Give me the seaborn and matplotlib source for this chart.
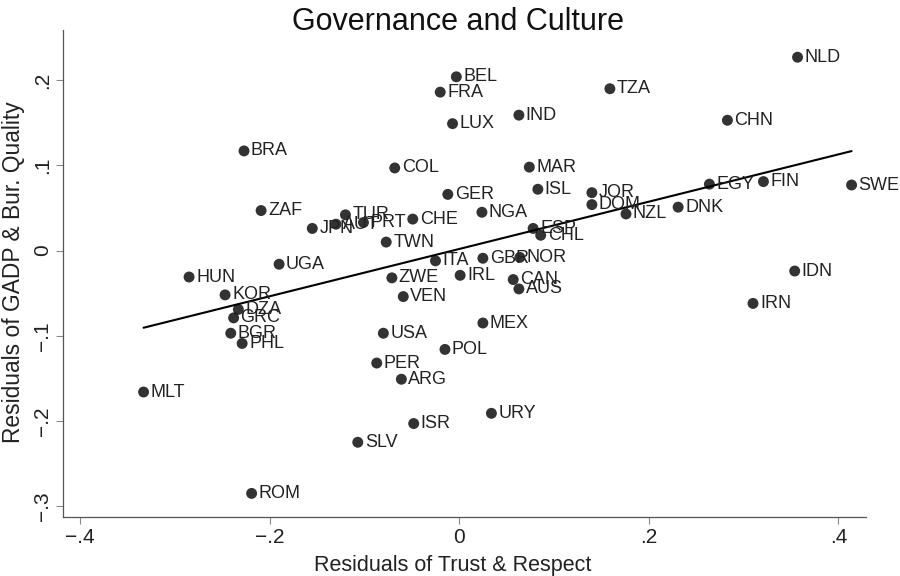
import matplotlib
matplotlib.use("Agg")
import matplotlib.pyplot as plt
import seaborn as sns
import numpy as np
import pandas as pd

countries = ["NLD", "BEL", "FRA", "TZA", "IND", "LUX", "CHN", "BRA", "COL", "MAR",
             "ISL", "JOR", "DOM", "EGY", "FIN", "SWE", "DNK", "NZL", "GER", "NGA",
             "ZAF", "TUR", "JPN", "AUT", "PRT", "CHE", "TWN", "UGA", "ITA", "ZWE",
             "IRL", "HUN", "KOR", "DZA", "GRC", "BGR", "PHL", "VEN", "GBR", "NOR",
             "CAN", "AUS", "ESP", "CHL", "IDN", "IRN", "USA", "MEX", "POL", "PER",
             "ARG", "MLT", "ROM", "URY", "ISR", "SLV"]
trust = [0.357, -0.003, -0.020, 0.159, 0.063, -0.007, 0.283, -0.227, -0.068, 0.074,
         0.083, 0.140, 0.140, 0.264, 0.321, 0.414, 0.231, 0.176, -0.012, 0.024,
         -0.209, -0.120, -0.155, -0.130, -0.101, -0.049, -0.077, -0.190, -0.025, -0.071,
         0.001, -0.285, -0.247, -0.233, -0.238, -0.241, -0.229, -0.059, 0.025, 0.064,
         0.057, 0.063, 0.078, 0.086, 0.354, 0.310, -0.080, 0.025, -0.015, -0.087,
         -0.061, -0.333, -0.219, 0.034, -0.048, -0.107]
gadp = [0.227, 0.204, 0.186, 0.190, 0.159, 0.149, 0.153, 0.117, 0.097, 0.098,
        0.072, 0.068, 0.054, 0.078, 0.081, 0.077, 0.051, 0.043, 0.066, 0.045,
        0.047, 0.042, 0.026, 0.031, 0.033, 0.037, 0.010, -0.016, -0.012, -0.032,
        -0.029, -0.031, -0.052, -0.069, -0.079, -0.097, -0.109, -0.054, -0.009, -0.008,
        -0.034, -0.045, 0.026, 0.018, -0.024, -0.062, -0.097, -0.085, -0.116, -0.132,
        -0.151, -0.166, -0.285, -0.191, -0.203, -0.225]
xtick_vals = [-0.4, -0.2, 0, 0.2, 0.4]
xtick_labels = ["\u2212.4", "\u2212.2", "0", ".2", ".4"]
ytick_vals = [-0.3, -0.2, -0.1, 0, 0.1, 0.2]
ytick_labels = ["\u2212.3", "\u2212.2", "\u2212.1", "0", ".1", ".2"]

df = pd.DataFrame({"country": countries, "trust": trust, "gadp": gadp})

sns.set_style("white")
plt.rcParams["font.family"] = ["Liberation Sans", "DejaVu Sans"]

fig = plt.figure(figsize=(9, 5.76), dpi=100)
ax = fig.add_axes([0.07, 0.102, 0.892, 0.846])

sns.regplot(data=df, x="trust", y="gadp", ci=None, truncate=True, ax=ax,
            scatter_kws=dict(s=62, color="black", edgecolor="none", zorder=3),
            line_kws=dict(color="black", lw=1.5, zorder=2))

for c, x, y in zip(countries, trust, gadp):
    ax.annotate(c, (x, y), xytext=(5, 0), textcoords="offset points",
                va="center", ha="left", fontsize=13, color="#222222", zorder=4,
                annotation_clip=False)

ax.set_xlim(-0.418, 0.429)
ax.set_ylim(-0.313, 0.259)
ax.set_xticks(xtick_vals)
ax.set_xticklabels(xtick_labels)
ax.set_yticks(ytick_vals)
ax.set_yticklabels(ytick_labels, rotation=90, va="center")
ax.tick_params(axis="both", which="major", length=5, width=0.8, color="#888888",
               labelsize=15, labelcolor="#222222", bottom=True, left=True, pad=3)

for s in ["top", "right"]:
    ax.spines[s].set_visible(False)
for s in ["left", "bottom"]:
    ax.spines[s].set_color("#555555")
    ax.spines[s].set_linewidth(0.9)

ax.set_xlabel("Residuals of Trust & Respect", fontsize=15.5, color="#222222")
ax.set_ylabel("Residuals of GADP & Bur. Quality", fontsize=16.4, color="#222222")
ax.xaxis.set_label_coords(0.486, -0.078)
ax.yaxis.set_label_coords(-0.047, 0.503)
fig.text(0.509, 0.962, "Governance and Culture", fontsize=22, ha="center", va="center",
         color="#111111")

fig.savefig("out.png", dpi=100)
